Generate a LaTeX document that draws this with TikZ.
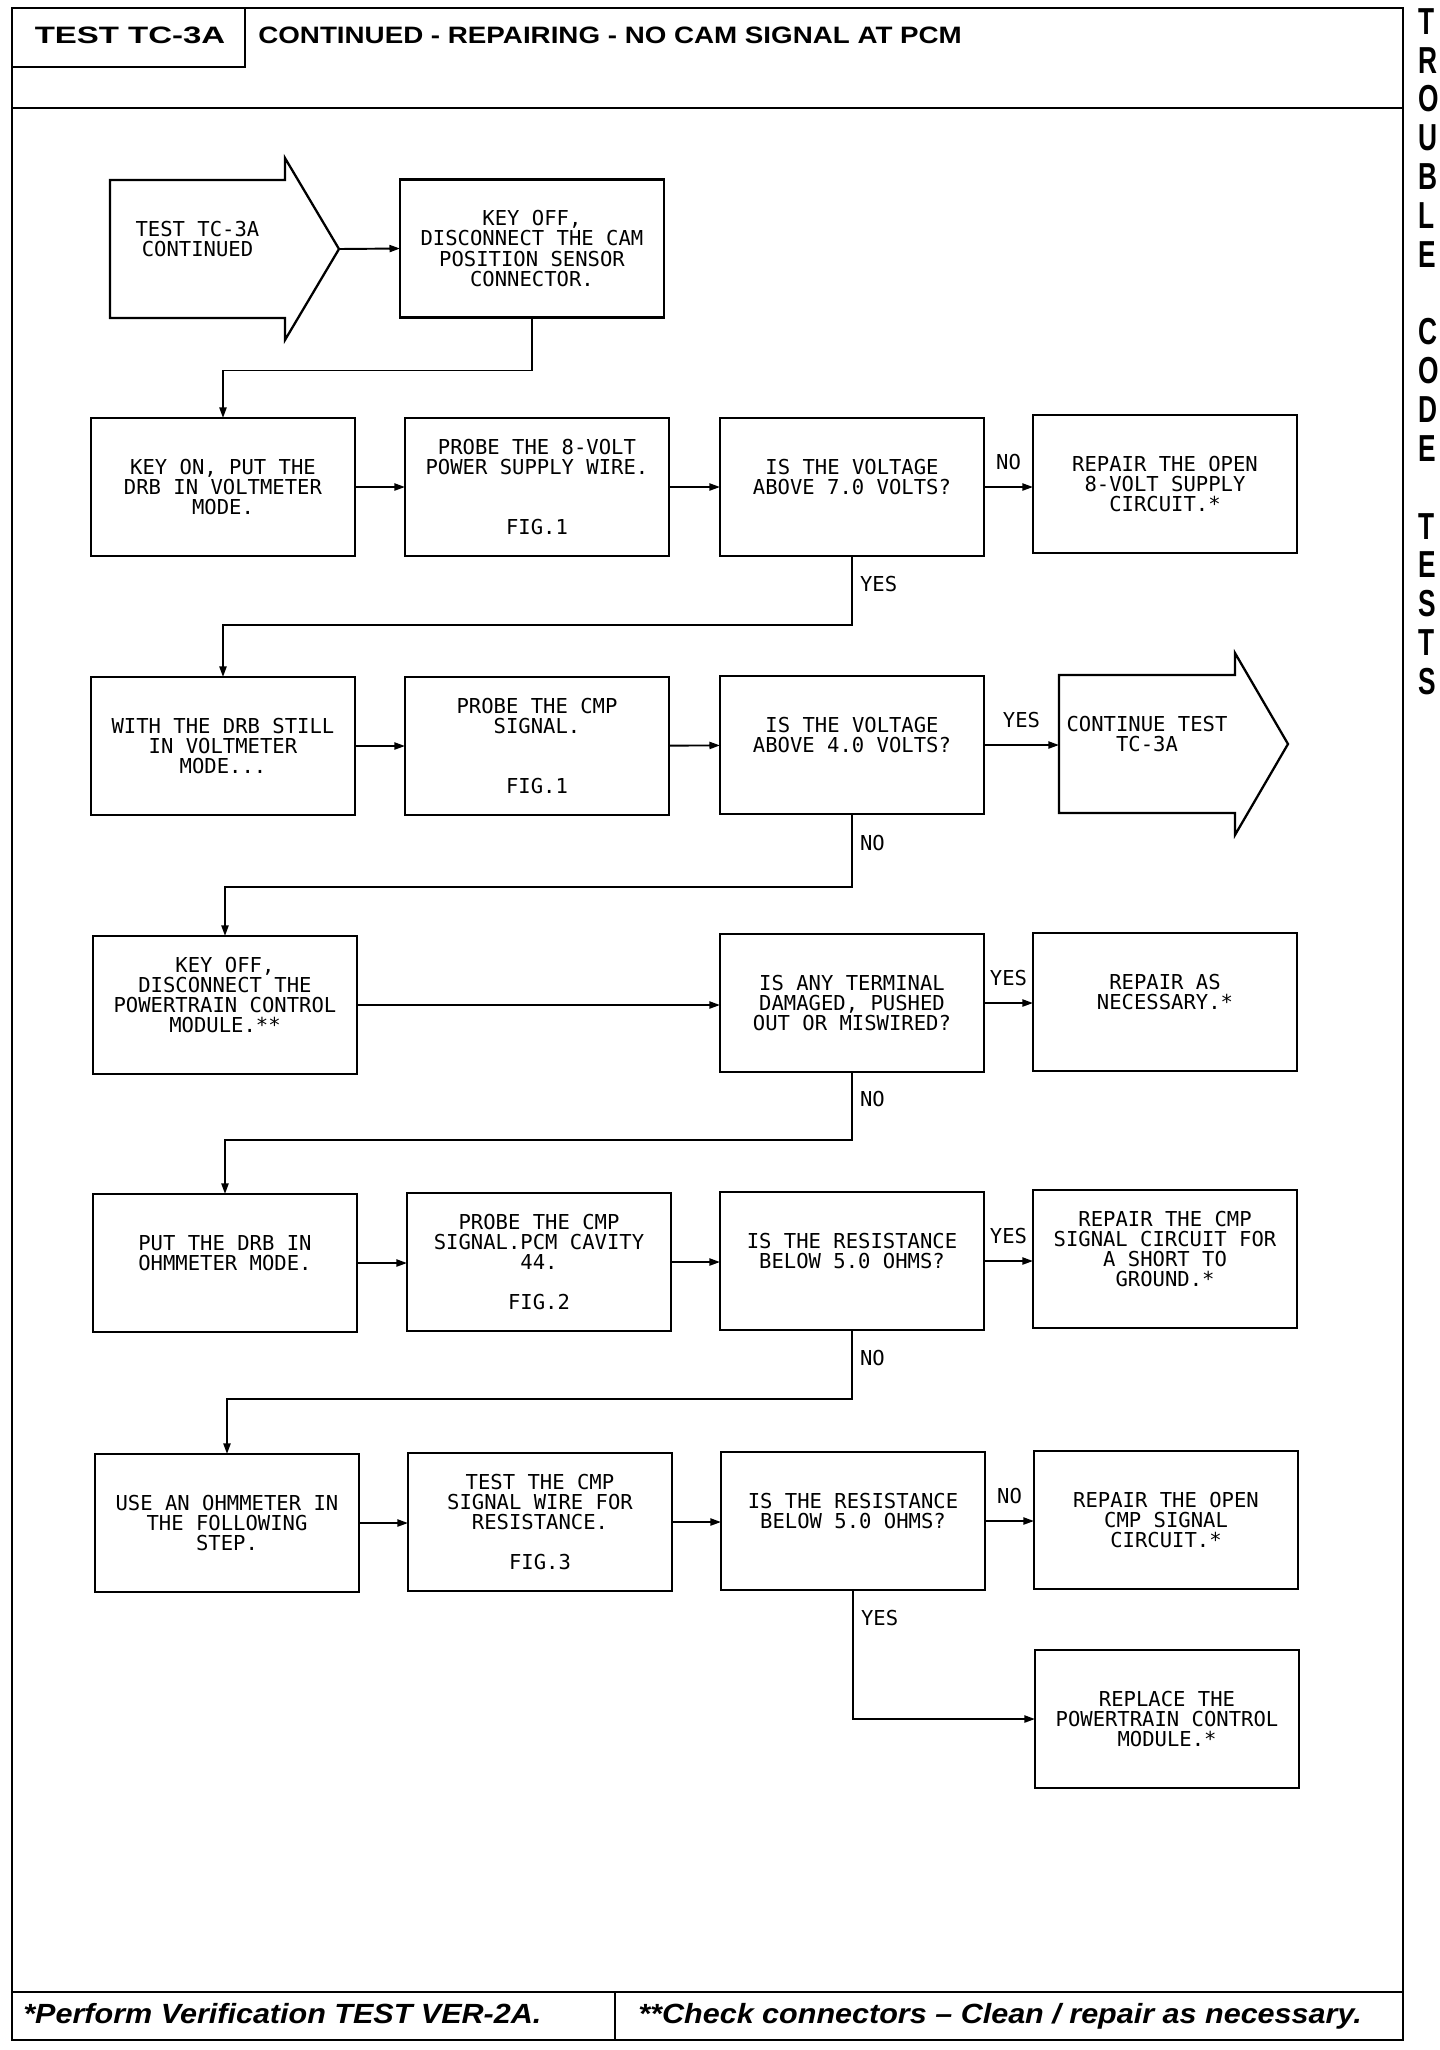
\documentclass[tikz,border=0pt]{standalone}
\usepackage{fontspec}
\usetikzlibrary{arrows.meta}
\newfontfamily\plotfont{DejaVu Sans Mono}
\newfontfamily\headfont{Liberation Sans}[FakeStretch=1.39]
\newfontfamily\titlefont{Liberation Sans}[FakeStretch=1.17]
\newfontfamily\notefont{Liberation Sans}[FakeStretch=1.10]
\newfontfamily\edgefont{Liberation Sans}[FakeStretch=0.70]

\begin{document}
\begin{tikzpicture}[
  x=0.02cm,
  y=-0.02cm,
  line join=miter,
  frame/.style={draw=black,line width=1.1pt},
  boxline/.style={draw=black,line width=1.3pt},
  stepbox/.style={boxline,rectangle,minimum width=5.28cm,minimum height=2.76cm,
    inner sep=0pt,outer sep=0pt,align=center,font=\plotfont\fontsize{11.7}{11.4}\selectfont},
  bodybox/.style={stepbox,draw=none,minimum width=3.5cm},
  flow/.style={draw=black,line width=1.1pt,-{Triangle[length=6pt,width=4pt]}},
  lbl/.style={inner sep=0pt,font=\plotfont\fontsize{11.7}{11.4}\selectfont},
  headtext/.style={inner sep=0pt,font=\headfont\bfseries\fontsize{13.5}{14}\selectfont},
  titletext/.style={inner sep=0pt,font=\titlefont\bfseries\fontsize{13.5}{14}\selectfont},
  notetext/.style={inner sep=0pt,font=\notefont\bfseries\itshape\fontsize{15.8}{16}\selectfont}
]
  \newcommand{\drawpointer}[2]{%
    \draw[boxline] (#1.north west) -- (#1.north east) -- ([yshift=0.44cm]#1.north east)
      -- (#2) -- ([yshift=-0.44cm]#1.south east) -- (#1.south east) -- (#1.south west) -- cycle;
  }

  \useasboundingbox (0,0) rectangle (1440,2050);

  % Page frame, header and footer.
  \draw[frame] (12,8) rectangle (1403,2040);
  \draw[boxline] (12,8) rectangle (245,67);
  \draw[boxline] (12,108) -- (1403,108);
  \draw[boxline] (12,1992) -- (1403,1992);
  \draw[frame] (615,1992) -- (615,2040);
  \node[headtext,anchor=base] (testid) at (130,43) {TEST TC-3A};
  \node[titletext,anchor=base west] (testtitle) at (258,43) {CONTINUED - REPAIRING - NO CAM SIGNAL AT PCM};
  \node[notetext,anchor=base west] (noteone) at (23,2023) {*Perform Verification TEST VER-2A.};
  \node[notetext,anchor=base west] (notetwo) at (638,2023) {**Check connectors – Clean / repair as necessary.};

  % Section tab at the page edge.
  \node[anchor=north west,inner sep=0pt,align=left,
    font=\edgefont\bfseries\fontsize{21.4}{22.1}\selectfont] (sectiontab) at (1418,8)
    {T\\R\\O\\U\\B\\L\\E\\~\\C\\O\\D\\E\\~\\T\\E\\S\\T\\S};

  % Row 0: entry from the previous page.
  \node[bodybox] (s0) at (197.5,249) {TEST TC-3A\\CONTINUED\\~};
  \coordinate (s0tip) at (339,249);
  \drawpointer{s0}{s0tip}
  \node[stepbox] (k0) at (532,248.5) {KEY OFF,\\DISCONNECT THE CAM\\POSITION SENSOR\\CONNECTOR.};

  % Row 1: 8-volt supply.
  \node[stepbox] (a1) at (223,487) {KEY ON, PUT THE\\DRB IN VOLTMETER\\MODE.};
  \node[stepbox] (a2) at (537,487) {PROBE THE 8-VOLT\\POWER SUPPLY WIRE.\\~\\~\\FIG.1};
  \node[stepbox] (a3) at (852,487) {IS THE VOLTAGE\\ABOVE 7.0 VOLTS?\\~};
  \node[stepbox] (a4) at (1165,484) {REPAIR THE OPEN\\8-VOLT SUPPLY\\CIRCUIT.*};

  % Row 2: CMP signal voltage.
  \node[stepbox] (b1) at (223,746) {WITH THE DRB STILL\\IN VOLTMETER\\MODE...};
  \node[stepbox] (b2) at (537,746) {PROBE THE CMP\\SIGNAL.\\~\\~\\FIG.1};
  \node[stepbox] (b3) at (852,745) {IS THE VOLTAGE\\ABOVE 4.0 VOLTS?\\~};
  \node[bodybox,minimum width=3.52cm] (b4) at (1147,744) {CONTINUE TEST\\TC-3A\\~};
  \coordinate (b4tip) at (1288,744);
  \drawpointer{b4}{b4tip}

  % Row 3: terminals at the module.
  \node[stepbox] (c1) at (225,1005) {KEY OFF,\\DISCONNECT THE\\POWERTRAIN CONTROL\\MODULE.**\\~};
  \node[stepbox] (c3) at (852,1003) {IS ANY TERMINAL\\DAMAGED, PUSHED\\OUT OR MISWIRED?};
  \node[stepbox] (c4) at (1165,1002) {REPAIR AS\\NECESSARY.*\\~};

  % Row 4: short to ground.
  \node[stepbox] (d1) at (225,1263) {PUT THE DRB IN\\OHMMETER MODE.\\~};
  \node[stepbox] (d2) at (539,1262) {PROBE THE CMP\\SIGNAL.PCM CAVITY\\44.\\~\\FIG.2};
  \node[stepbox] (d3) at (852,1261) {IS THE RESISTANCE\\BELOW 5.0 OHMS?\\~};
  \node[stepbox] (d4) at (1165,1259) {REPAIR THE CMP\\SIGNAL CIRCUIT FOR\\A SHORT TO\\GROUND.*\\~};

  % Row 5: open in the signal wire.
  \node[stepbox] (e1) at (227,1523) {USE AN OHMMETER IN\\THE FOLLOWING\\STEP.};
  \node[stepbox] (e2) at (540,1522) {TEST THE CMP\\SIGNAL WIRE FOR\\RESISTANCE.\\~\\FIG.3};
  \node[stepbox] (e3) at (853,1521) {IS THE RESISTANCE\\BELOW 5.0 OHMS?\\~};
  \node[stepbox] (e4) at (1166,1520) {REPAIR THE OPEN\\CMP SIGNAL\\CIRCUIT.*};
  \node[stepbox] (e6) at (1167,1719) {REPLACE THE\\POWERTRAIN CONTROL\\MODULE.*};

  % Connectors, row by row.
  \draw[flow] (s0tip) -- (k0.west);
  \draw[flow] (k0.south) -- ++(0,53) -| (a1.north);

  \draw[flow] (a1) -- (a2);
  \draw[flow] (a2) -- (a3);
  \draw[flow] (a3.east) -- node[lbl,above=9pt] (lno1) {NO} (a3.east -| a4.west);
  \draw[flow] (a3.south) -- node[lbl,right=4pt,pos=0.4] (lyes1) {YES} ++(0,69) -| (b1.north);

  \draw[flow] (b1) -- (b2);
  \draw[flow] (b2) -- (b3);
  \draw[flow] (b3.east) -- node[lbl,above=9pt] (lyes2) {YES} (b3.east -| b4.west);
  \draw[flow] (b3.south) -- node[lbl,right=4pt,pos=0.4] (lno2) {NO} ++(0,73) -| (c1.north);

  \draw[flow] (c1.east) -- (c1.east -| c3.west);
  \draw[flow] (c3.east) -- node[lbl,above=9pt] (lyes3) {YES} (c3.east -| c4.west);
  \draw[flow] (c3.south) -- node[lbl,right=4pt,pos=0.4] (lno3) {NO} ++(0,68) -| (d1.north);

  \draw[flow] (d1.east) -- (d1.east -| d2.west);
  \draw[flow] (d2.east) -- (d2.east -| d3.west);
  \draw[flow] (d3.east) -- node[lbl,above=9pt] (lyes4) {YES} (d3.east -| d4.west);
  \draw[flow] (d3.south) -- node[lbl,right=4pt,pos=0.4] (lno4) {NO} ++(0,69) -| (e1.north);

  \draw[flow] (e1.east) -- (e1.east -| e2.west);
  \draw[flow] (e2.east) -- (e2.east -| e3.west);
  \draw[flow] (e3.east) -- node[lbl,above=9pt] (lno5) {NO} (e3.east -| e4.west);
  \draw[flow] (e3.south) |- node[lbl,right=4pt,pos=0.11] (lyes5) {YES} (e6.west);
\end{tikzpicture}
\end{document}
